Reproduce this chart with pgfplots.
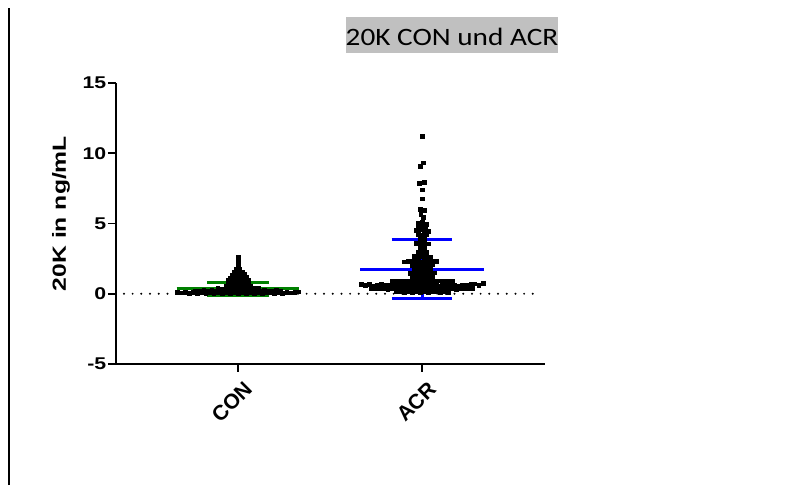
\documentclass[border=0pt]{standalone}
\usepackage{pgfplots}
\pgfplotsset{compat=1.18}
\usepackage{fontspec}
\setmainfont{Liberation Sans}
\newfontfamily\titlefont{Carlito}[FakeStretch=1.17]
\newfontfamily\ylabfont{Liberation Sans}[FakeStretch=1.3]
\newfontfamily\ytickfont{Liberation Sans}[FakeStretch=1.25]
\definecolor{titlegray}{RGB}{192,192,192}
\definecolor{gpgreen}{RGB}{0,128,0}
\definecolor{gpblue}{RGB}{0,0,255}

\pgfplotstableread{
x y
-0.330 0.10
-0.308 0.07
-0.286 0.12
-0.264 0.05
-0.242 0.09
-0.220 0.04
-0.198 0.11
-0.176 0.06
-0.154 0.08
-0.132 0.03
-0.110 0.10
-0.088 0.05
-0.066 0.07
-0.044 0.02
-0.022 0.09
0.000 0.04
0.022 0.08
0.044 0.03
0.066 0.10
0.088 0.06
0.110 0.09
0.132 0.04
0.154 0.11
0.176 0.07
0.198 0.05
0.220 0.10
0.242 0.06
0.264 0.12
0.286 0.08
0.308 0.11
0.330 0.14
-0.231 0.22
-0.209 0.20
-0.187 0.24
-0.165 0.19
-0.143 0.23
-0.121 0.21
-0.099 0.25
-0.077 0.19
-0.055 0.22
-0.033 0.24
-0.011 0.20
0.011 0.23
0.033 0.21
0.055 0.25
0.077 0.19
0.099 0.22
0.121 0.20
0.143 0.24
0.165 0.21
0.187 0.19
0.209 0.23
0.231 0.20
-0.110 0.38
-0.088 0.36
-0.066 0.40
-0.044 0.37
-0.022 0.39
0.000 0.36
0.022 0.41
0.044 0.38
0.066 0.40
0.088 0.37
0.110 0.39
-0.066 0.56
-0.044 0.58
-0.022 0.55
0.000 0.59
0.022 0.57
0.044 0.60
0.066 0.56
-0.055 0.76
-0.033 0.74
-0.011 0.78
0.011 0.75
0.033 0.77
0.055 0.74
-0.055 0.95
-0.033 0.97
-0.011 0.94
0.011 0.98
0.033 0.96
0.055 0.95
-0.044 1.14
-0.022 1.16
0.000 1.13
0.022 1.17
0.044 1.15
-0.033 1.34
-0.011 1.36
0.011 1.33
0.033 1.37
-0.022 1.54
0.000 1.56
0.022 1.53
-0.008 1.74
0.008 1.77
0.000 2.10
0.002 2.38
-0.001 2.64
}\condata

\pgfplotstableread{
x y
1.000 11.20
1.005 9.33
0.992 9.05
0.986 7.88
1.012 7.92
1.000 7.40
1.000 6.76
0.990 6.00
1.010 5.96
0.993 5.68
1.004 5.45
0.980 5.06
1.002 5.12
1.022 4.96
0.976 4.76
0.998 4.80
1.020 4.72
0.967 4.52
0.989 4.56
1.011 4.50
1.033 4.48
0.978 4.22
1.000 4.18
1.022 4.24
0.989 3.94
1.011 3.88
0.967 3.62
0.989 3.58
1.011 3.61
1.033 3.56
0.989 3.30
1.011 3.26
0.978 2.98
1.000 2.93
1.022 2.96
0.956 2.67
0.978 2.62
1.000 2.69
1.022 2.64
1.044 2.60
0.901 2.28
0.923 2.33
0.945 2.30
0.967 2.35
0.989 2.27
1.011 2.32
1.033 2.29
1.055 2.34
1.077 2.30
0.945 2.03
0.967 2.06
0.989 2.01
1.011 2.05
1.033 2.02
1.055 2.07
0.956 1.79
0.978 1.83
1.000 1.78
1.022 1.82
1.044 1.80
0.934 1.49
0.956 1.52
0.978 1.47
1.000 1.51
1.022 1.48
1.044 1.53
1.066 1.50
0.945 1.18
0.967 1.21
0.989 1.17
1.011 1.20
1.033 1.19
1.055 1.22
0.835 0.88
0.857 0.92
0.879 0.87
0.901 0.91
0.923 0.89
0.945 0.93
0.967 0.88
0.989 0.90
1.011 0.92
1.033 0.87
1.055 0.91
1.077 0.89
1.099 0.93
1.121 0.88
1.143 0.90
1.165 0.92
0.670 0.66
0.692 0.62
0.714 0.70
0.736 0.58
0.758 0.64
0.780 0.68
0.802 0.60
0.824 0.65
0.846 0.61
0.868 0.69
0.890 0.63
0.912 0.59
0.934 0.67
0.956 0.62
0.978 0.64
1.000 0.60
1.022 0.66
1.044 0.63
1.066 0.68
1.088 0.58
1.110 0.65
1.132 0.61
1.154 0.69
1.176 0.62
1.198 0.57
1.220 0.64
1.242 0.60
1.264 0.66
1.286 0.71
1.308 0.63
1.330 0.74
0.725 0.40
0.747 0.36
0.769 0.39
0.791 0.42
0.813 0.35
0.835 0.38
0.857 0.41
0.879 0.37
0.901 0.40
0.923 0.34
0.945 0.39
0.967 0.36
0.989 0.42
1.011 0.38
1.033 0.35
1.055 0.41
1.077 0.37
1.099 0.40
1.121 0.36
1.143 0.39
1.165 0.42
1.187 0.35
1.209 0.38
1.231 0.41
1.253 0.37
1.275 0.40
0.857 0.14
0.879 0.18
0.901 0.12
0.923 0.16
0.945 0.10
0.967 0.17
0.989 0.13
1.011 0.15
1.033 0.11
1.055 0.18
1.077 0.14
1.099 0.12
1.121 0.16
1.143 0.13
}\acrdata

\begin{document}
\begin{tikzpicture}
\useasboundingbox (0,0) rectangle (792bp,486bp);
\draw[line width=1.6bp] (9bp,1bp) -- (9bp,478bp);
\node[fill=titlegray, inner sep=0pt, text height=28.7bp, text depth=7.6bp, anchor=base west,
      font=\titlefont\fontsize{25bp}{25bp}\selectfont] at (345.5bp,440.3bp) {20K CON und ACR};
\begin{axis}[
  at={(116bp,122bp)}, anchor=south west, scale only axis,
  width=429bp, height=281bp,
  xmin=-0.663, xmax=1.668, ymin=-5, ymax=15,
  axis lines=left,
  axis line style={-, line width=1.6bp, black},
  xtick={0,1}, xticklabels={CON,ACR},
  ytick={-5,0,5,10,15}, yticklabels={{-5},0,5,10,15},
  tick align=outside, major tick length=8bp,
  tick style={line width=1.6bp, black},
  yticklabel style={font=\ytickfont\bfseries\fontsize{17bp}{17bp}\selectfont, inner sep=1.5bp},
  xticklabel style={font=\bfseries\fontsize{21bp}{21bp}\selectfont, xshift=5bp, yshift=-8bp, rotate=45, anchor=north east, inner sep=0pt},
  every axis y label/.style={at={(axis description cs:-0.1166,0.5356)}, rotate=90, anchor=base, inner sep=0pt, font=\ylabfont\bfseries\fontsize{19bp}{19bp}\selectfont},
  ylabel={20K in ng/mL},
  clip=false,
]
\addplot[black, line width=2.2bp, line cap=round, dash pattern=on 0bp off 8.7bp] coordinates {(-0.62,0) (1.614,0)};
% CON mean and SD
\addplot[gpgreen, line width=3bp] coordinates {(-0.333,0.38) (0.333,0.38)};
\addplot[gpgreen, line width=3bp] coordinates {(-0.166,0.82) (0.166,0.82)};
\addplot[gpgreen, line width=3bp] coordinates {(-0.166,-0.13) (0.166,-0.13)};
\addplot[gpgreen, line width=3bp] coordinates {(0,-0.13) (0,0.82)};
\addplot[only marks, mark=square*, mark size=1.9bp, mark options={fill=black, draw=black}] table[x=x,y=y] {\condata};
\addplot[only marks, mark=square*, mark size=1.9bp, mark options={fill=black, draw=black}] table[x=x,y=y] {\acrdata};
% ACR mean and SD
\addplot[gpblue, line width=3bp] coordinates {(0.665,1.76) (1.335,1.76)};
\addplot[gpblue, line width=3bp] coordinates {(0.835,3.83) (1.165,3.83)};
\addplot[gpblue, line width=3bp] coordinates {(0.835,-0.31) (1.165,-0.31)};
\addplot[gpblue, line width=3bp] coordinates {(1,-0.31) (1,3.83)};
\end{axis}
\end{tikzpicture}
\end{document}
